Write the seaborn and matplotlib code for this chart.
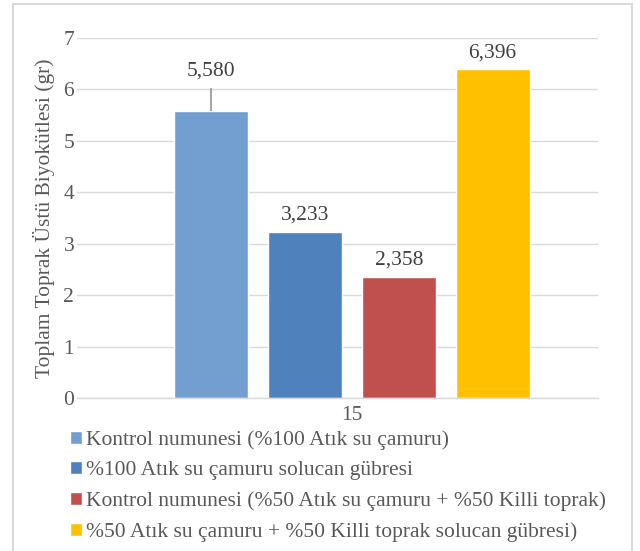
import matplotlib
matplotlib.use("Agg")
import matplotlib.pyplot as plt
from matplotlib.patches import Rectangle
import seaborn as sns
import pandas as pd

# Above-ground biomass per treatment (grams), sampling day 15
day = ["15"]
series = [
    "Kontrol numunesi (%100 Atık su çamuru)",
    "%100 Atık su çamuru solucan gübresi",
    "Kontrol numunesi (%50 Atık su çamuru + %50 Killi toprak)",
    "%50 Atık su çamuru + %50 Killi toprak solucan gübresi)",
]
values = [5.580, 3.233, 2.358, 6.396]
errors = [0.45, 0.0, 0.0, 0.0]
colors = ["#729FCF", "#4F81BD", "#C0504D", "#FFC000"]

sns.set_theme(style="white")
plt.rcParams["font.family"] = ["Liberation Serif", "DejaVu Serif"]

text_color = "#595959"
grid_color = "#D9D9D9"
fs = 15.5

df = pd.DataFrame({"day": day * len(series), "series": series, "value": values})

fig = plt.figure(figsize=(6.4, 5.51), dpi=100)
ax = fig.add_axes([77 / 640, 1 - 398 / 551, (598 - 77) / 640, (398 - 38) / 551])

sns.barplot(
    data=df, x="day", y="value", hue="series", hue_order=series,
    palette=colors, errorbar=None, width=0.8, gap=0.21, saturation=1,
    legend=True, ax=ax,
)

# error bars and value labels placed on the drawn bars
for patch, val, err in zip(ax.patches[:len(values)], values, errors):
    cx = patch.get_x() + patch.get_width() / 2
    if err > 0:
        ax.errorbar(cx, val, yerr=[[0], [err]], fmt="none",
                    ecolor="#A6A6A6", elinewidth=1.5, capsize=0, zorder=3)
    ax.annotate(f"{val:.3f}".replace(".", ","), (cx, val + err),
                xytext=(0, 5), textcoords="offset points",
                ha="center", va="bottom", fontsize=fs, color="#404040")

ax.set_ylim(0, 7)
ax.set_yticks(range(0, 8))
ax.set_xlim(-0.587, 0.525)
ax.grid(axis="y", color=grid_color, linewidth=1)
ax.set_axisbelow(True)
for side in ["top", "right", "left"]:
    ax.spines[side].set_visible(False)
ax.spines["bottom"].set_color(grid_color)
ax.spines["bottom"].set_linewidth(1)
ax.tick_params(axis="both", length=0, labelsize=fs, colors=text_color)
ax.tick_params(axis="y", pad=2)
ax.tick_params(axis="x", pad=6)
ax.set_xlabel("")
ax.set_ylabel("Toplam Toprak Üstü Biyokütlesi (gr)", fontsize=fs, color=text_color)
ax.yaxis.set_label_coords(-0.042, 0.5)

handles, labels = ax.get_legend_handles_labels()
ax.get_legend().remove()
fig.legend(handles, labels, loc="upper left",
           bbox_to_anchor=(70 / 640, 1 - 430 / 551),
           frameon=False, fontsize=fs, labelcolor=text_color,
           handlelength=0.55, handleheight=0.55, handletextpad=0.2,
           labelspacing=0.52, borderaxespad=0, borderpad=0)

# light frame around the chart area
fig.patches.append(Rectangle((13 / 640, -0.05), (632 - 13) / 640, 1.05 - 4 / 551,
                             transform=fig.transFigure, fill=False,
                             edgecolor=grid_color, linewidth=1.5))

fig.savefig("out.png", dpi=100)
